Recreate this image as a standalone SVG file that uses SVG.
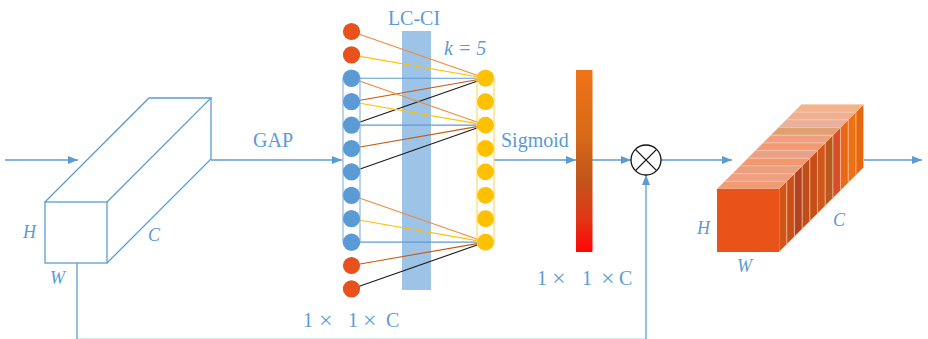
<svg xmlns="http://www.w3.org/2000/svg" width="928" height="339" viewBox="0 0 928 339">
<style>
.t{font-family:"Liberation Serif","Times New Roman",serif;font-size:20px;fill:#5B9BD5}
.i{font-style:italic;font-size:18px}
.x{font-size:24px}
.bl{stroke:#5B9BD5;stroke-width:1.3;fill:none}
.c1{stroke:#F08A3C;stroke-width:1.1}
.c2{stroke:#FFC000;stroke-width:1.1}
.c3{stroke:#5B9BD5;stroke-width:1.1}
.c4{stroke:#C55A11;stroke-width:1.1}
.c5{stroke:#1A1A1A;stroke-width:1.1}
.ro{fill:#E8501C}
.rb{fill:#5B9BD5}
.ry{fill:#FFC000}
.sl polygon{stroke:#F6CDB0;stroke-width:0.7;stroke-opacity:0.8}
</style>
<defs>
<marker id="ah" viewBox="0 0 10 8" refX="10" refY="4" markerWidth="10" markerHeight="8" markerUnits="userSpaceOnUse" orient="auto">
<path d="M0,0 L10,4 L0,8 Z" fill="#5B9BD5"/>
</marker>
<linearGradient id="bar" x1="0" y1="0" x2="0" y2="1">
<stop offset="0" stop-color="#EE7418"/>
<stop offset="0.35" stop-color="#D86A18"/>
<stop offset="0.6" stop-color="#C0561A"/>
<stop offset="0.8" stop-color="#DE3A18"/>
<stop offset="1" stop-color="#FF0505"/>
</linearGradient>
</defs>

<g id="connectors">
<line class="bl" x1="5" y1="160" x2="78" y2="160" marker-end="url(#ah)"/>
<line class="bl" x1="211" y1="160" x2="342" y2="160" marker-end="url(#ah)"/>
<line class="bl" x1="494" y1="160" x2="576" y2="160" marker-end="url(#ah)"/>
<line class="bl" x1="592" y1="160" x2="631" y2="160" marker-end="url(#ah)"/>
<line class="bl" x1="661" y1="160" x2="732" y2="160" marker-end="url(#ah)"/>
<line class="bl" x1="864" y1="160" x2="922" y2="160" marker-end="url(#ah)"/>
<polyline class="bl" points="77,263 77,339.4 646,339.4"/>
<line class="bl" x1="646" y1="340" x2="646" y2="175" marker-end="url(#ah)"/>
</g>

<g id="input-tensor" class="bl">
<rect x="45" y="202" width="62" height="61"/>
<path d="M45,202 L149,98 L211,98 L107,202 M211,98 L211,159 L107,263"/>
<text class="t i" x="23" y="238" style="stroke:none">H</text>
<text class="t i" x="50" y="284" style="stroke:none">W</text>
<text class="t i" x="148" y="241" style="stroke:none">C</text>
</g>

<g id="gap-label"><text class="t" x="253" y="147">GAP</text></g>

<g id="lcci">
<rect x="402" y="31" width="29" height="259" fill="#9DC3E6"/>
<text class="t" x="414" y="25" text-anchor="middle">LC-CI</text>
<text class="t" x="444" y="55" font-style="italic" font-size="19">k = 5</text>
</g>

<g id="links">
<line class="c1" x1="351.5" y1="31.5" x2="485.5" y2="78.3"/>
<line class="c2" x1="351.5" y1="54.9" x2="485.5" y2="78.3"/>
<line class="c3" x1="351.5" y1="78.3" x2="485.5" y2="78.3"/>
<line class="c4" x1="351.5" y1="101.7" x2="485.5" y2="78.3"/>
<line class="c5" x1="351.5" y1="125.1" x2="485.5" y2="78.3"/>
<line class="c1" x1="351.5" y1="78.3" x2="485.5" y2="125.1"/>
<line class="c2" x1="351.5" y1="101.7" x2="485.5" y2="125.1"/>
<line class="c3" x1="351.5" y1="125.1" x2="485.5" y2="125.1"/>
<line class="c4" x1="351.5" y1="148.5" x2="485.5" y2="125.1"/>
<line class="c5" x1="351.5" y1="171.9" x2="485.5" y2="125.1"/>
<line class="c1" x1="351.5" y1="195.3" x2="485.5" y2="242.1"/>
<line class="c2" x1="351.5" y1="218.7" x2="485.5" y2="242.1"/>
<line class="c3" x1="351.5" y1="242.1" x2="485.5" y2="242.1"/>
<line class="c4" x1="351.5" y1="265.5" x2="485.5" y2="242.1"/>
<line class="c5" x1="351.5" y1="288.9" x2="485.5" y2="242.1"/>
</g>

<g id="input-vector">
<rect x="343" y="70" width="17" height="180" rx="8.5" fill="none" stroke="#8DB8E2" stroke-width="1.2"/>
<circle class="ro" cx="351.5" cy="31.5" r="8.6"/>
<circle class="ro" cx="351.5" cy="54.9" r="8.6"/>
<circle class="rb" cx="351.5" cy="78.3" r="8.6"/>
<circle class="rb" cx="351.5" cy="101.7" r="8.6"/>
<circle class="rb" cx="351.5" cy="125.1" r="8.6"/>
<circle class="rb" cx="351.5" cy="148.5" r="8.6"/>
<circle class="rb" cx="351.5" cy="171.9" r="8.6"/>
<circle class="rb" cx="351.5" cy="195.3" r="8.6"/>
<circle class="rb" cx="351.5" cy="218.7" r="8.6"/>
<circle class="rb" cx="351.5" cy="242.1" r="8.6"/>
<circle class="ro" cx="351.5" cy="265.5" r="8.6"/>
<circle class="ro" cx="351.5" cy="288.9" r="8.6"/>
<text class="t"><tspan x="303" y="327">1</tspan><tspan class="x" x="319" y="328">×</tspan><tspan x="348" y="327">1</tspan><tspan class="x" x="363" y="328">×</tspan><tspan x="386" y="327">C</tspan></text>
</g>

<g id="output-vector">
<rect x="477" y="70" width="17" height="180" rx="8.5" fill="none" stroke="#FFD966" stroke-width="1.2"/>
<circle class="ry" cx="485.5" cy="78.3" r="8.4"/>
<circle class="ry" cx="485.5" cy="101.7" r="8.4"/>
<circle class="ry" cx="485.5" cy="125.1" r="8.4"/>
<circle class="ry" cx="485.5" cy="148.5" r="8.4"/>
<circle class="ry" cx="485.5" cy="171.9" r="8.4"/>
<circle class="ry" cx="485.5" cy="195.3" r="8.4"/>
<circle class="ry" cx="485.5" cy="218.7" r="8.4"/>
<circle class="ry" cx="485.5" cy="242.1" r="8.4"/>
</g>

<g id="sigmoid-label"><text class="t" x="501" y="147">Sigmoid</text></g>

<g id="weights">
<rect x="576" y="70" width="16.5" height="182" fill="url(#bar)"/>
<text class="t"><tspan x="537" y="285">1</tspan><tspan class="x" x="552" y="286">×</tspan><tspan x="582" y="285">1</tspan><tspan class="x" x="601" y="286">×</tspan><tspan x="619" y="285">C</tspan></text>
</g>

<g id="multiply" fill="none" stroke="#111" stroke-width="1.3">
<circle cx="646" cy="160" r="15"/>
<path d="M635.4,149.4 L656.6,170.6 M656.6,149.4 L635.4,170.6"/>
</g>

<g id="output-tensor">
<g class="sl">
<g transform="translate(76.82,-76.82)"><polygon points="717,189 779,189 786.68,181.32 724.68,181.32" fill="#F2B48A"/><polygon points="779,189 779,252 786.68,244.32 786.68,181.32" fill="#E5680E"/></g>
<g transform="translate(69.14,-69.14)"><polygon points="717,189 779,189 786.68,181.32 724.68,181.32" fill="#F0B090"/><polygon points="779,189 779,252 786.68,244.32 786.68,181.32" fill="#EE7012"/></g>
<g transform="translate(61.45,-61.45)"><polygon points="717,189 779,189 786.68,181.32 724.68,181.32" fill="#EAB09E"/><polygon points="779,189 779,252 786.68,244.32 786.68,181.32" fill="#E86A18"/></g>
<g transform="translate(53.77,-53.77)"><polygon points="717,189 779,189 786.68,181.32 724.68,181.32" fill="#E0A072"/><polygon points="779,189 779,252 786.68,244.32 786.68,181.32" fill="#D84E28"/></g>
<g transform="translate(46.09,-46.09)"><polygon points="717,189 779,189 786.68,181.32 724.68,181.32" fill="#F0A080"/><polygon points="779,189 779,252 786.68,244.32 786.68,181.32" fill="#B85A20"/></g>
<g transform="translate(38.41,-38.41)"><polygon points="717,189 779,189 786.68,181.32 724.68,181.32" fill="#F49A72"/><polygon points="779,189 779,252 786.68,244.32 786.68,181.32" fill="#D2561C"/></g>
<g transform="translate(30.73,-30.73)"><polygon points="717,189 779,189 786.68,181.32 724.68,181.32" fill="#E9A088"/><polygon points="779,189 779,252 786.68,244.32 786.68,181.32" fill="#C84E18"/></g>
<g transform="translate(23.05,-23.05)"><polygon points="717,189 779,189 786.68,181.32 724.68,181.32" fill="#F59870"/><polygon points="779,189 779,252 786.68,244.32 786.68,181.32" fill="#C14D1B"/></g>
<g transform="translate(15.36,-15.36)"><polygon points="717,189 779,189 786.68,181.32 724.68,181.32" fill="#E8A080"/><polygon points="779,189 779,252 786.68,244.32 786.68,181.32" fill="#B24220"/></g>
<g transform="translate(7.68,-7.68)"><polygon points="717,189 779,189 786.68,181.32 724.68,181.32" fill="#F0A080"/><polygon points="779,189 779,252 786.68,244.32 786.68,181.32" fill="#C84E1A"/></g>
<g><polygon points="717,189 779,189 786.68,181.32 724.68,181.32" fill="#F29A74"/><polygon points="779,189 779,252 786.68,244.32 786.68,181.32" fill="#D25518"/></g>
</g>
<rect x="717" y="189" width="62" height="63" fill="#E9531A"/>
<text class="t i" x="697" y="234">H</text>
<text class="t i" x="737" y="272">W</text>
<text class="t i" x="833" y="226">C</text>
</g>
</svg>
